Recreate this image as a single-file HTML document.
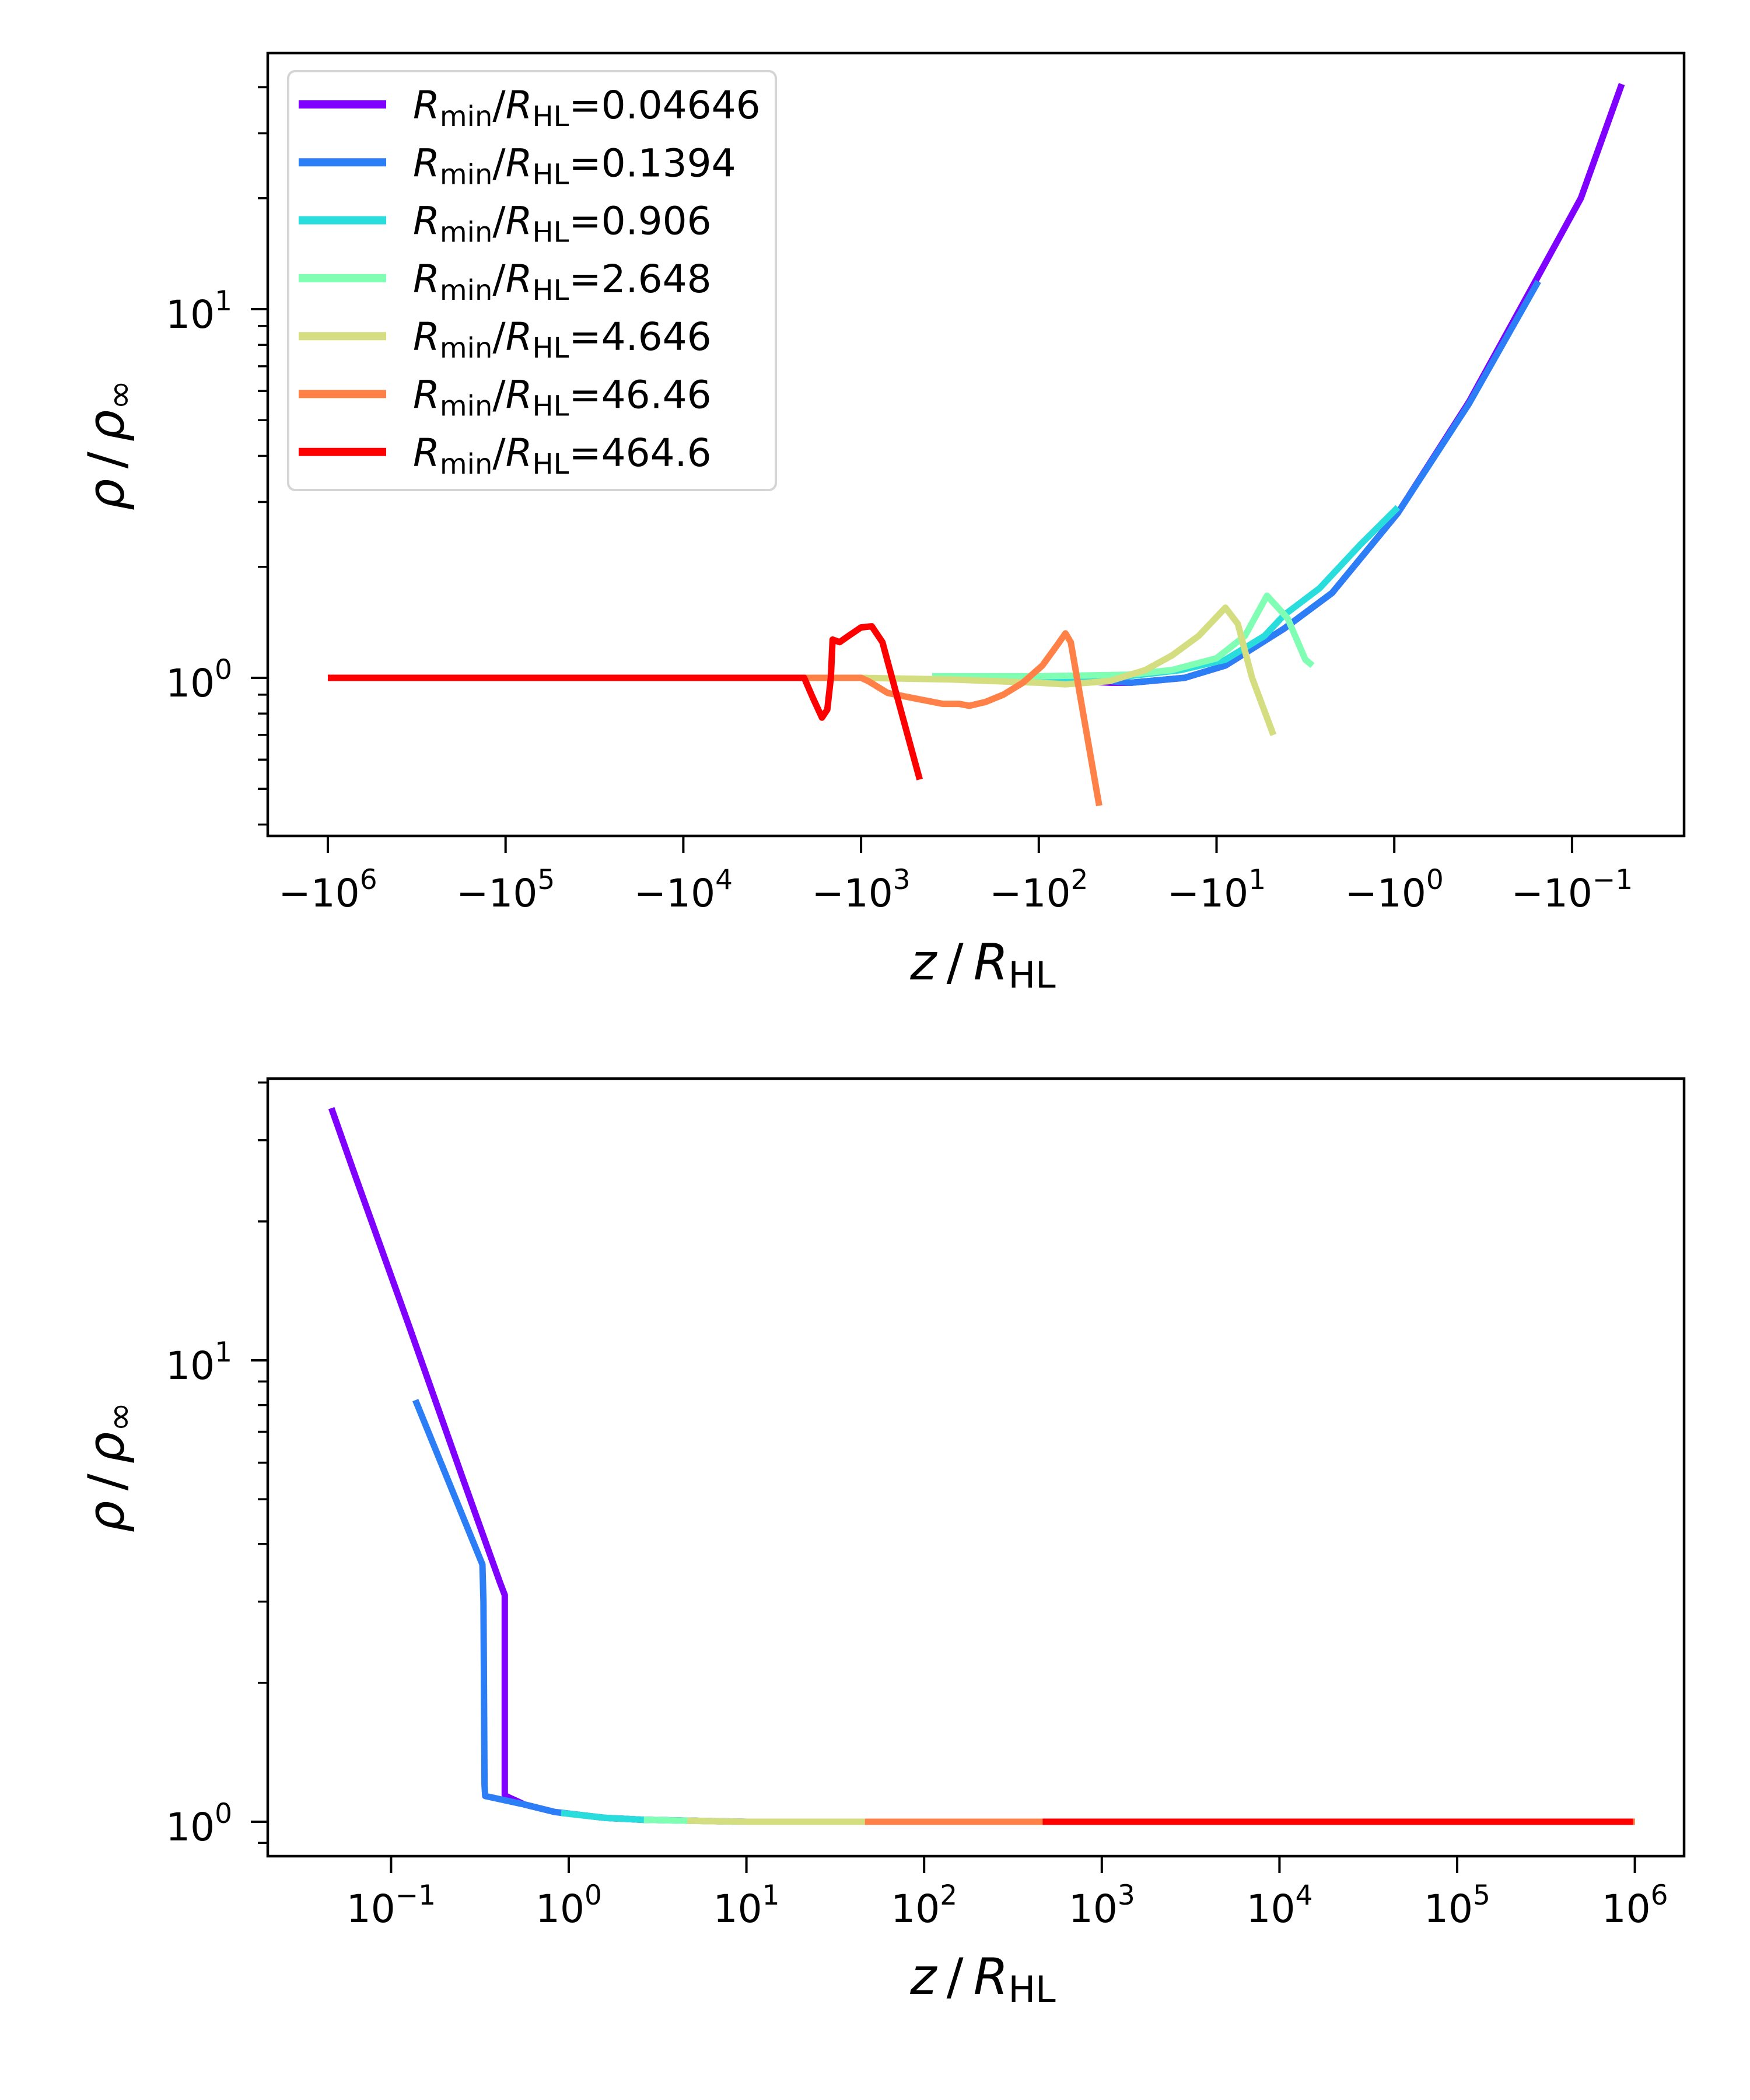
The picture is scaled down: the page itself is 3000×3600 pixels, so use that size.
<!DOCTYPE html>
<html><head><meta charset="utf-8">
<style>
html,body{margin:0;padding:0;background:#fff;}
svg{display:block;font-family:"DejaVu Sans","Liberation Sans",sans-serif;}
</style></head>
<body>
<svg id="fig" width="3000" height="3600" viewBox="0 0 3000 3600" xmlns="http://www.w3.org/2000/svg">
<rect x="0" y="0" width="3000" height="3600" fill="#fff"/>
<g id="top"></g>
<g id="bot"></g>
</svg>
<script>
// ---- data ----
const seriesNames = ["0.04646","0.1394","0.906","2.648","4.646","46.46","464.6"];
const seriesColors = ["#8000ff","#2c7ef7","#2adddd","#80ffb4","#d4dd80","#ff8148","#ff0000"];
// Top panel: u = log10(-z/R_HL), rho/rho_inf
const topU0 = [1.9,1.6,1.48,1.18,0.95,0.62,0.35,-0.02,-0.42,-0.81,-1.05,-1.28];
const topR0 = [0.99,0.97,0.97,1.0,1.08,1.36,1.7,2.8,5.6,12.3,20,40.8];
const topU1 = [1.9,1.6,1.48,1.18,0.95,0.62,0.35,-0.02,-0.42,-0.81];
const topR1 = [1.0,0.98,0.97,1.0,1.08,1.36,1.7,2.8,5.54,11.9];
const topU2 = [2.3,1.8,1.5,1.2,0.95,0.73,0.62,0.42,0.19,-0.02];
const topR2 = [1.0,1.0,1.01,1.05,1.12,1.3,1.48,1.75,2.3,2.9];
const topU3 = [2.6,2.0,1.5,1.25,1.0,0.84,0.716,0.6,0.5,0.46];
const topR3 = [1.01,1.01,1.02,1.05,1.13,1.3,1.67,1.45,1.12,1.08];
const topU4 = [3.32,3.0,2.5,2.0,1.85,1.6,1.4,1.25,1.1,0.95,0.88,0.8,0.68];
const topR4 = [1.0,1.0,0.99,0.97,0.96,0.98,1.05,1.15,1.3,1.55,1.4,1.0,0.7];
const topU5 = [3.32,3.0,2.96,2.85,2.7,2.54,2.45,2.39,2.3,2.2,2.09,1.98,1.9,1.85,1.82,1.66];
const topR5 = [1.0,1.0,0.98,0.91,0.88,0.85,0.85,0.84,0.86,0.9,0.97,1.08,1.22,1.32,1.25,0.45];
const topU6 = [6,3.32,3.27,3.22,3.19,3.17,3.16,3.12,3.07,3.0,2.94,2.88,2.8,2.67];
const topR6 = [1,1,0.88,0.78,0.82,1.0,1.27,1.25,1.3,1.37,1.38,1.25,0.9,0.53];
// Bottom panel: v = log10(z/R_HL), rho/rho_inf
const botV0 = [-1.336,-1.2,-0.9,-0.6,-0.387,-0.36,-0.36,-0.25,-0.08,0.2,0.42,1,6];
const botR0 = [35.2,25,11.9,5.6,3.3,3.1,1.14,1.09,1.05,1.02,1.01,1.0,1.0];
const botV1 = [-0.863,-0.486,-0.48,-0.474,-0.47,-0.25,-0.08,0.2,0.42,1,6];
const botR1 = [8.2,3.61,3.0,1.2,1.137,1.09,1.05,1.02,1.01,1.0,1.0];
const botV2 = [-0.043,0.2,0.42,1,6];
const botR2 = [1.045,1.02,1.01,1.0,1.0];
const botV3 = [0.423,0.67,1,6];
const botR3 = [1.01,1.005,1.0,1.0];
const botV4 = [0.667,1,6];
const botR4 = [1.005,1.0,1.0];
const botV5 = [1.667,6];
const botR5 = [1.0,1.0];
const botV6 = [2.667,5.99];
const botR6 = [1.0,1.0];
const topXTicks = [6,5,4,3,2,1,0,-1];
const botXTicks = [-1,0,1,2,3,4,5,6];

const NS="http://www.w3.org/2000/svg";
function mk(tag, attrs, parent){const e=document.createElementNS(NS,tag);for(const k in attrs)e.setAttribute(k,attrs[k]);parent.appendChild(e);return e;}

const topX = u => 562 + (6-u)*304.7;
const topY = r => 1162 - 632*Math.log10(r);
const botX = v => 975 + v*304.6;
const botY = r => 3123 - 791*Math.log10(r);

function axes(g, box, xOfTick, ticks, neg, yOf, yMajors, yMinors, labBase, xlabBase, ylabCY){
  ticks.forEach((t)=>{
    const x=xOfTick(t);
    const l=mk('line',{x1:x,y1:box.b,x2:x,y2:box.b+29,stroke:'#000','stroke-width':4},g);
    
    
    const tx=mk('text',{x:x,y:labBase,'font-size':66,'text-anchor':'middle',fill:'#000'},g);
    
    
    tx.textContent=(neg?'\u221210':'10');
    const sp=mk('tspan',{dy:-30,'font-size':47},tx);
    sp.textContent=String(t).replace('-','\u2212');
  });
  yMajors.forEach(p=>{
    const y=yOf(Math.pow(10,p));
    const l=mk('line',{x1:box.l-29,y1:y,x2:box.l,y2:y,stroke:'#000','stroke-width':4},g);
    
    
    const tx=mk('text',{x:398,y:y+32,'font-size':66,'text-anchor':'end',fill:'#000'},g);
    
    
    tx.textContent='10';
    const sp=mk('tspan',{dy:-30,'font-size':47},tx);
    sp.textContent=String(p);
  });
  yMinors.forEach(r=>{
    const y=yOf(r);
    const l=mk('line',{x1:box.l-17,y1:y,x2:box.l,y2:y,stroke:'#000','stroke-width':3.5},g);
    
    
  });
  const xl=mk('text',{x:1685,y:xlabBase,'font-size':86,'text-anchor':'middle',fill:'#000'},g);
  
  
  xl.innerHTML='<tspan font-style="italic">z</tspan>\u2009/\u2009<tspan font-style="italic">R</tspan><tspan font-size="62" dy="14">HL</tspan>';
  const yl=mk('text',{x:0,y:0,'font-size':86,'text-anchor':'middle',fill:'#000',transform:`translate(212,${ylabCY}) rotate(-90)`},g);
  
  
  yl.innerHTML='<tspan font-style="italic">ρ</tspan>\u2009/\u2009<tspan font-style="italic">ρ</tspan><tspan font-size="62" dy="14">∞</tspan>';
}
function frame(g, box){
  const r=mk('rect',{x:box.l,y:box.t,width:box.r-box.l,height:box.b-box.t,fill:'none',stroke:'#000','stroke-width':4.5},g);
  
  
}
function series(g, xs, ys, fx, fy, color, name){
  let d='';
  for(let i=0;i<xs.length;i++){d+=(i?'L':'M')+fx(xs[i]).toFixed(1)+','+fy(ys[i]).toFixed(1);}
  const p=mk('path',{d:d,fill:'none',stroke:color,'stroke-width':11,'stroke-linejoin':'round','stroke-linecap':'butt'},g);
  
  
}

const gT=document.getElementById('top');
const gB=document.getElementById('bot');
const boxT={l:459,r:2887,t:91,b:1433};
const boxB={l:459,r:2887,t:1849,b:3182};
const minorsT=[0.4,0.5,0.6,0.7,0.8,0.9,2,3,4,5,6,7,8,9,20,30,40];
const minorsB=[0.9,2,3,4,5,6,7,8,9,20,30,40];
axes(gT, boxT, topX, topXTicks, true, topY, [0,1], minorsT, 1554, 1679, 763);
axes(gB, boxB, botX, botXTicks, false, botY, [0,1], minorsB, 3295, 3418, 2515);

const TU=[topU0,topU1,topU2,topU3,topU4,topU5,topU6], TR=[topR0,topR1,topR2,topR3,topR4,topR5,topR6];
const BV=[botV0,botV1,botV2,botV3,botV4,botV5,botV6], BR=[botR0,botR1,botR2,botR3,botR4,botR5,botR6];
const clipT=mk('clipPath',{id:'ct'},gT); mk('rect',{x:boxT.l,y:boxT.t,width:boxT.r-boxT.l,height:boxT.b-boxT.t},clipT);
const clipB=mk('clipPath',{id:'cb'},gB); mk('rect',{x:boxB.l,y:boxB.t,width:boxB.r-boxB.l,height:boxB.b-boxB.t},clipB);
const sT=mk('g',{'clip-path':'url(#ct)'},gT);
const sB=mk('g',{'clip-path':'url(#cb)'},gB);
for(let i=0;i<7;i++){
  series(sT, TU[i], TR[i], topX, topY, seriesColors[i], 'top-series-'+i);
  series(sB, BV[i], BR[i], botX, botY, seriesColors[i], 'bottom-series-'+i);
}
frame(gT, boxT); frame(gB, boxB);

// legend
const lg=mk('g',{},gT);


mk('rect',{x:494,y:122,width:836,height:718,rx:12,fill:'#fff','fill-opacity':0.8,stroke:'#d5d5d5','stroke-width':4},lg);
for(let i=0;i<7;i++){
  const y=179+i*99.3;
  const ln=mk('line',{x1:512,y1:y,x2:662,y2:y,stroke:seriesColors[i],'stroke-width':14},lg);
  
  
  const t=mk('text',{x:708,y:y+24,'font-size':66,fill:'#000'},lg);
  
  
  t.innerHTML='<tspan font-style="italic">R</tspan><tspan font-size="48" dy="13">min</tspan><tspan dy="-13">/</tspan><tspan font-style="italic">R</tspan><tspan font-size="48" dy="13">HL</tspan><tspan dy="-13">='+seriesNames[i]+'</tspan>';
}
</script>
</body></html>
